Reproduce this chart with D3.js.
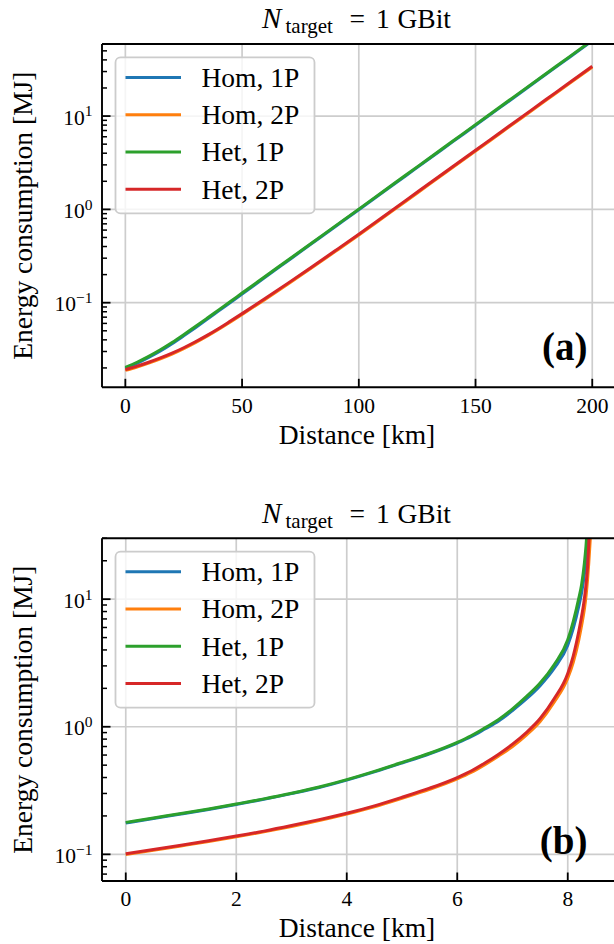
<!DOCTYPE html>
<html>
<head>
<meta charset="utf-8">
<script src="https://cdn.jsdelivr.net/npm/d3@7"></script>
<style>
  html, body { margin: 0; padding: 0; background: #fff; }
  svg text { font-family: "Liberation Serif", "Times New Roman", serif; fill: #000; }
</style>
</head>
<body>
<svg id="fig" width="614" height="944"></svg>
<script>
// Series labels and colours (default matplotlib cycle), drawn in this order
const seriesNames  = ["Hom, 1P", "Hom, 2P", "Het, 1P", "Het, 2P"];
const seriesColors = ["#1f77b4", "#ff7f0e", "#2ca02c", "#d62728"];

// Panel (a): energy [MJ] versus distance [km]
const distA  = [0, 5, 10, 15, 20, 25, 30, 35, 40, 45, 50, 60, 70, 80, 90, 100, 110, 120, 130, 140, 150, 160, 170, 180, 190, 200];
const homA1P = [0.0197, 0.0224, 0.0259, 0.0304, 0.0364, 0.0442, 0.0540, 0.0664, 0.0817, 0.1005, 0.1238, 0.1887, 0.2857, 0.4327, 0.6553, 0.992, 1.505, 2.283, 3.464, 5.254, 7.971, 12.09, 18.34, 27.83, 42.21, 64.04];
const homA2P = [0.01881, 0.02047, 0.02255, 0.02508, 0.02819, 0.03223, 0.03735, 0.04378, 0.05191, 0.06226, 0.07485, 0.1092, 0.1608, 0.2383, 0.3550, 0.5312, 0.804, 1.217, 1.841, 2.787, 4.219, 6.386, 9.666, 14.63, 22.14, 33.52];
const hetA1P = [0.02023, 0.02301, 0.02661, 0.03126, 0.03741, 0.04539, 0.05546, 0.06808, 0.08375, 0.1030, 0.1268, 0.1919, 0.2904, 0.4395, 0.6653, 1.007, 1.528, 2.317, 3.516, 5.333, 8.091, 12.27, 18.62, 28.25, 42.85, 65.01];
const hetA2P = [0.01919, 0.02089, 0.02301, 0.02559, 0.02877, 0.03289, 0.03811, 0.04467, 0.05297, 0.06353, 0.07638, 0.1114, 0.1641, 0.2432, 0.3622, 0.5420, 0.8204, 1.2417, 1.879, 2.844, 4.305, 6.516, 9.863, 14.93, 22.59, 34.20];
const xTicksA = [0, 50, 100, 150, 200];

// Panel (b): energy [MJ] versus distance [km], diverging near 8.4 km
const distB  = [0, 0.5, 1, 1.5, 2, 2.5, 3, 3.5, 4, 4.5, 5, 5.5, 6, 6.25, 6.5, 6.75, 7, 7.25, 7.5, 7.75, 8, 8.1, 8.2, 8.25, 8.3, 8.33, 8.36, 8.38, 8.4, 8.42];
const homB1P = [0.176, 0.191, 0.207, 0.225, 0.246, 0.27, 0.299, 0.334, 0.382, 0.443, 0.52, 0.614, 0.745, 0.835, 0.96, 1.11, 1.34, 1.65, 2.1, 2.85, 4.35, 5.9, 8.8, 11.2, 15.5, 20.5, 30, 42, null, null];
const homB2P = [0.0995, 0.1075, 0.1163, 0.126, 0.137, 0.15, 0.1655, 0.184, 0.207, 0.236, 0.275, 0.323, 0.39, 0.438, 0.505, 0.59, 0.70, 0.86, 1.1, 1.55, 2.4, 3.2, 4.8, 6.2, 8.3, 10.5, 14.5, 19, 26, 36];
const hetB1P = [0.178, 0.193, 0.209, 0.227, 0.248, 0.272, 0.301, 0.337, 0.385, 0.447, 0.525, 0.62, 0.755, 0.85, 0.98, 1.14, 1.38, 1.72, 2.2, 3.05, 4.8, 6.7, 10.2, 13, 19, 26, 40, null, null, null];
const hetB2P = [0.101, 0.109, 0.118, 0.128, 0.139, 0.152, 0.168, 0.187, 0.21, 0.24, 0.28, 0.33, 0.40, 0.45, 0.52, 0.61, 0.73, 0.9, 1.16, 1.65, 2.62, 3.6, 5.6, 7.3, 10, 13, 18.5, 27, 40, null];
const xTicksB = [0, 2, 4, 6, 8];

// Shared y axis decades and their exponent labels
const yMajor = [0.1, 1, 10];
const yExponents = ["\u22121", "0", "1"];

const titleParts = { sym: "N", sub: "target", rest: ["=", "1", "GBit"] };
const xLabel = "Distance [km]";
const yLabel = "Energy consumption [MJ]";

const svg = d3.select("#fig");
svg.append("rect").attr("width", 614).attr("height", 944).attr("fill", "#fff");

const GRID = "#cdcdcd";
const LABEL_SIZE = 27.5;
const TICK_SIZE = 21.5;

function drawPanel(p) {
  const g = svg.append("g");
  const x = d3.scaleLinear().domain(p.xDomain).range([p.left, p.right]);
  const y = d3.scaleLog().domain(p.yDomain).range([p.bottom, p.top]);
  const plotRight = Math.min(p.right, 614);

  const clipId = "clip-" + p.id;
  svg.append("clipPath").attr("id", clipId)
    .append("rect")
    .attr("x", p.left).attr("y", p.top)
    .attr("width", p.right - p.left).attr("height", p.bottom - p.top);

  // grid at major ticks
  g.append("g").selectAll("line").data(p.xTicks).join("line")
    .attr("x1", d => x(d)).attr("x2", d => x(d))
    .attr("y1", p.top).attr("y2", p.bottom)
    .attr("stroke", GRID).attr("stroke-width", 1.7);
  g.append("g").selectAll("line").data(yMajor).join("line")
    .attr("x1", p.left).attr("x2", plotRight)
    .attr("y1", d => y(d)).attr("y2", d => y(d))
    .attr("stroke", GRID).attr("stroke-width", 1.7);

  // curves
  const line = d3.line()
    .defined(d => d.v != null)
    .x(d => x(d.x))
    .y(d => y(d.v))
    .curve(d3.curveMonotoneX);
  const curves = g.append("g").attr("clip-path", `url(#${clipId})`);
  p.series.forEach((vals, i) => {
    const pts = p.dist.map((dx, k) => ({ x: dx, v: vals[k] }));
    curves.append("path")
      .attr("d", line(pts))
      .attr("fill", "none")
      .attr("stroke", seriesColors[i])
      .attr("stroke-width", 3)
      .attr("stroke-linejoin", "round");
  });

  // spines (the right one falls outside the canvas)
  const sp = g.append("g").attr("stroke", "#000").attr("stroke-width", 1.9).attr("fill", "none");
  sp.append("line").attr("x1", p.left).attr("x2", p.right).attr("y1", p.top).attr("y2", p.top);
  sp.append("line").attr("x1", p.left).attr("x2", p.right).attr("y1", p.bottom).attr("y2", p.bottom);
  sp.append("line").attr("x1", p.left).attr("x2", p.left).attr("y1", p.top).attr("y2", p.bottom);

  // inward ticks: x majors at the bottom
  g.append("g").selectAll("line").data(p.xTicks).join("line")
    .attr("x1", d => x(d)).attr("x2", d => x(d))
    .attr("y1", p.bottom).attr("y2", p.bottom - 8.5)
    .attr("stroke", "#000").attr("stroke-width", 1.8);
  g.append("g").selectAll("text").data(p.xTicks).join("text")
    .attr("x", d => x(d)).attr("y", p.bottom + 25.4)
    .attr("text-anchor", "middle")
    .attr("font-size", TICK_SIZE)
    .text(d => d3.format("d")(d));

  // y ticks on the left: decades and 2..9 minors
  const minors = [];
  const [lo, hi] = p.yDomain;
  for (let e = Math.floor(Math.log10(lo)); e <= Math.ceil(Math.log10(hi)); e++) {
    for (let m = 2; m <= 9; m++) {
      const v = m * Math.pow(10, e);
      if (v >= lo && v <= hi) minors.push(v);
    }
  }
  g.append("g").selectAll("line").data(minors).join("line")
    .attr("x1", p.left).attr("x2", p.left + 5)
    .attr("y1", d => y(d)).attr("y2", d => y(d))
    .attr("stroke", "#000").attr("stroke-width", 1.5);
  g.append("g").selectAll("line").data(yMajor).join("line")
    .attr("x1", p.left).attr("x2", p.left + 8.5)
    .attr("y1", d => y(d)).attr("y2", d => y(d))
    .attr("stroke", "#000").attr("stroke-width", 1.8);
  const yl = g.append("g").selectAll("text").data(yMajor).join("text")
    .attr("x", p.left - 9.5).attr("y", d => y(d) + 8.6)
    .attr("text-anchor", "end")
    .attr("font-size", TICK_SIZE);
  yl.append("tspan").text("10");
  yl.append("tspan").attr("dy", -8.2).attr("font-size", 15.5).text((d, i) => yExponents[i]);

  // title: N_target = 1 GBit
  const t = g.append("text").attr("y", p.titleY).attr("font-size", LABEL_SIZE);
  t.append("tspan").attr("x", 262).attr("font-style", "italic").attr("font-size", 29).text(titleParts.sym);
  t.append("tspan").attr("x", 285.5).attr("dy", 4.5).attr("font-size", 21).text(titleParts.sub);
  t.append("tspan").attr("x", 349.5).attr("dy", -4.5).text(titleParts.rest[0]);
  t.append("tspan").attr("x", 376).text(titleParts.rest[1]);
  t.append("tspan").attr("x", 397.5).text(titleParts.rest[2]);

  // axis labels
  g.append("text")
    .attr("x", 357).attr("y", p.bottom + 56.3)
    .attr("text-anchor", "middle").attr("font-size", LABEL_SIZE)
    .text(xLabel);
  g.append("text")
    .attr("transform", `translate(32,${(p.top + p.bottom) / 2}) rotate(-90)`)
    .attr("text-anchor", "middle").attr("font-size", LABEL_SIZE)
    .text(yLabel);

  // panel tag
  g.append("text")
    .attr("x", 587.5).attr("y", p.bottom - 27.5)
    .attr("text-anchor", "end").attr("font-weight", "bold").attr("font-size", 39)
    .text(p.tag);

  // legend
  const lg = g.append("g");
  lg.append("rect")
    .attr("x", 115.5).attr("y", p.top + 13.4)
    .attr("width", 199).attr("height", 156)
    .attr("rx", 5).attr("ry", 5)
    .attr("fill", "#fff").attr("fill-opacity", 0.8)
    .attr("stroke", "#cccccc").attr("stroke-width", 1.8);
  seriesNames.forEach((name, i) => {
    const ry = p.top + 33.4 + i * 37.3;
    lg.append("line")
      .attr("x1", 125.5).attr("x2", 181)
      .attr("y1", ry).attr("y2", ry)
      .attr("stroke", seriesColors[i]).attr("stroke-width", 3);
    lg.append("text")
      .attr("x", 201.5).attr("y", ry + 9.3)
      .attr("font-size", LABEL_SIZE)
      .text(name);
  });
}

drawPanel({
  id: "a", tag: "(a)",
  top: 44, bottom: 387.3, left: 102, right: 615.6,
  xDomain: [-10, 210], yDomain: [0.0124, 59.2],
  xTicks: xTicksA, dist: distA,
  series: [homA1P, homA2P, hetA1P, hetA2P],
  titleY: 28.3
});

drawPanel({
  id: "b", tag: "(b)",
  top: 538.3, bottom: 881, left: 102, right: 623,
  xDomain: [-0.43, 9.0], yDomain: [0.0618, 30],
  xTicks: xTicksB, dist: distB,
  series: [homB1P, homB2P, hetB1P, hetB2P],
  titleY: 523.3
});
</script>
</body>
</html>
